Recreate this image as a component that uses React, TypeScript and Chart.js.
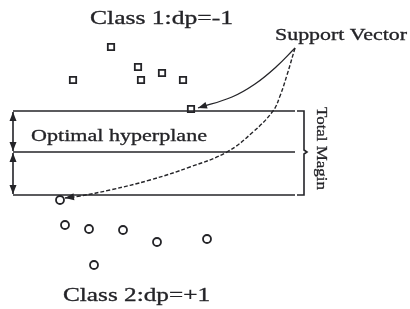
import React, { useEffect, useRef } from "react";
import Chart from "chart.js/auto";

// Class 1 points (squares) and Class 2 points (circles)
const class1X = [111, 138, 162, 73, 141, 183];
const class1Y = [47, 67, 73, 80, 80, 80];
const supportSquareX = [191];
const supportSquareY = [109];
const class2X = [65, 89, 123, 157, 207, 94];
const class2Y = [225, 229, 230, 242, 239, 265];
const supportCircleX = [60];
const supportCircleY = [200];

// hyperplanes
const planeY = [111, 152, 195];
const planeXStart = 13;
const planeXEnd = 295;

// bracket on the right (Total Margin)
const bracketX = [297, 304, 304, 307, 304, 304, 297];
const bracketY = [111, 111, 150, 152, 154, 195, 195];

// arrows from "Support Vector"
const solidCurveX = [295, 276, 255, 232, 198];
const solidCurveY = [48, 67, 84, 97, 108];
const dashedCurveX = [295, 287, 280, 273, 253, 227, 190, 150, 110, 80, 65];
const dashedCurveY = [48, 75, 96, 111, 132, 152, 167, 180, 190, 196, 198];

// labels
const labelTexts = ["Class 1:dp=-1", "Support Vector", "Optimal hyperplane", "Class 2:dp=+1", "Total Magin"];
const labelX = [90, 275, 31, 63, 317];
const labelY = [24, 40, 141, 301, 107];
const labelWidth = [143, 132, 176, 147, 83];
const labelSize = [18, 16, 17, 18, 15];
const labelRotated = [false, false, false, false, true];

const INK = "#242428";

function pts(xs: number[], ys: number[]) {
  return xs.map((x, i) => ({ x, y: ys[i] }));
}

const overlayPlugin = {
  id: "overlay",
  afterDatasetsDraw(chart: any) {
    const ctx = chart.ctx;
    const sx = chart.scales.x;
    const sy = chart.scales.y;
    // arrowheads
    chart.data.datasets.forEach((ds: any, i: number) => {
      const meta = chart.getDatasetMeta(i);
      const d = meta.data;
      if (!d || d.length < 2) return;
      const head = (tip: any, prev: any) => {
        const ang = Math.atan2(tip.y - prev.y, tip.x - prev.x);
        const L = 9, W = 3.5;
        ctx.save();
        ctx.translate(tip.x, tip.y);
        ctx.rotate(ang);
        ctx.beginPath();
        ctx.moveTo(0, 0);
        ctx.lineTo(-L, -W);
        ctx.lineTo(-L, W);
        ctx.closePath();
        ctx.fillStyle = INK;
        ctx.fill();
        ctx.restore();
      };
      if (ds.arrowEnd) head(d[d.length - 1], d[d.length - 2]);
      if (ds.arrowStart) head(d[0], d[1]);
    });
    // labels
    labelTexts.forEach((t, i) => {
      const px = sx.getPixelForValue(labelX[i]);
      const py = sy.getPixelForValue(labelY[i]);
      ctx.save();
      ctx.font = `${labelSize[i]}px "Liberation Serif", "DejaVu Serif", serif`;
      ctx.fillStyle = INK;
      ctx.strokeStyle = INK;
      ctx.lineWidth = 0.3;
      ctx.textBaseline = "alphabetic";
      ctx.textAlign = "left";
      const w = ctx.measureText(t).width;
      const scale = labelWidth[i] / w;
      ctx.translate(px, py);
      if (labelRotated[i]) ctx.rotate(Math.PI / 2);
      ctx.scale(scale, 1);
      ctx.fillText(t, 0, 0);
      ctx.strokeText(t, 0, 0);
      ctx.restore();
    });
  },
};

export default function App() {
  const ref = useRef<HTMLCanvasElement | null>(null);
  useEffect(() => {
    document.body.style.margin = "0";
    const canvas = ref.current!;
    const lineDs = (data: any[], extra: any = {}) => ({
      type: "scatter",
      data,
      showLine: true,
      borderColor: INK,
      borderWidth: 1.6,
      pointRadius: 0,
      fill: false,
      ...extra,
    });
    const datasets: any[] = [
      ...planeY.map((y) => lineDs([{ x: planeXStart, y }, { x: planeXEnd, y }])),
      lineDs(pts(bracketX, bracketY)),
      lineDs(pts([planeXStart, planeXStart], [planeY[0] + 1, planeY[1] - 1]), { arrowEnd: true, arrowStart: true }),
      lineDs(pts([planeXStart, planeXStart], [planeY[1] + 1, planeY[2] - 1]), { arrowEnd: true, arrowStart: true }),
      lineDs(pts(solidCurveX, solidCurveY), { tension: 0.4, arrowEnd: true, borderWidth: 1.3 }),
      lineDs(pts(dashedCurveX, dashedCurveY), { tension: 0.4, arrowEnd: true, borderWidth: 1.4, borderDash: [4, 2] }),
      {
        type: "scatter",
        data: pts(class1X.concat(supportSquareX), class1Y.concat(supportSquareY)),
        pointStyle: "rect",
        pointRadius: 4.5,
        pointBorderWidth: 1.8,
        pointBorderColor: INK,
        pointBackgroundColor: "#ffffff",
      },
      {
        type: "scatter",
        data: pts(class2X.concat(supportCircleX), class2Y.concat(supportCircleY)),
        pointStyle: "circle",
        pointRadius: 4,
        pointBorderWidth: 1.8,
        pointBorderColor: INK,
        pointBackgroundColor: "#ffffff",
      },
    ];
    const chart = new Chart(canvas, {
      type: "scatter",
      data: { datasets },
      options: {
        animation: false,
        responsive: false,
        layout: { padding: 0, autoPadding: false },
        plugins: { legend: { display: false }, tooltip: { enabled: false }, title: { display: false } },
        scales: {
          x: { type: "linear", min: 0, max: 410, display: false },
          y: { type: "linear", min: 0, max: 309, reverse: true, display: false },
        },
      },
      plugins: [overlayPlugin],
    } as any);
    return () => chart.destroy();
  }, []);
  return (
    <div style={{ width: 410, height: 309, background: "#fff" }}>
      <canvas ref={ref} width={410} height={309} style={{ display: "block" }} />
    </div>
  );
}
